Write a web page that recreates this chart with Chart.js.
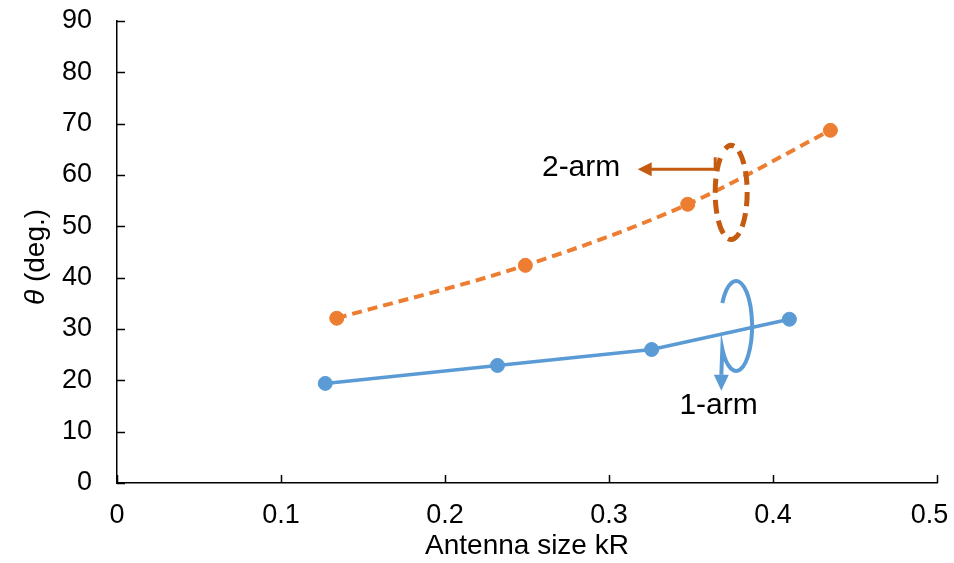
<!DOCTYPE html>
<html>
<head>
<meta charset="utf-8">
<script src="https://cdn.jsdelivr.net/npm/chart.js@4/dist/chart.umd.min.js"></script>
<style>
  html, body { margin: 0; padding: 0; background: #fff; }
  #wrap { width: 954px; height: 563px; }
</style>
</head>
<body>
<div id="wrap"><canvas id="chart"></canvas></div>
<script>
// values
const oneArmX = [0.127, 0.232, 0.326, 0.410];
const oneArmY = [19.4, 22.9, 26.0, 31.9];
const twoArmX = [0.134, 0.249, 0.348, 0.435];
const twoArmY = [32.1, 42.4, 54.3, 68.7];

const xTicks = [0, 0.1, 0.2, 0.3, 0.4, 0.5];
const yTicks = [0, 10, 20, 30, 40, 50, 60, 70, 80, 90];

const FONT = '"Liberation Sans", Arial, sans-serif';
const BLUE = '#5B9BD5';
const ORANGE = '#ED7D31';
const DARK_ORANGE = '#C55A11';

function toPoints(xs, ys) {
    return xs.map((x, i) => ({ x: x, y: ys[i] }));
}

// inward tick marks (Excel style)
const insideTicks = {
    id: 'insideTicks',
    afterDraw(chart) {
        const ctx = chart.ctx;
        const xs = chart.scales.x, ys = chart.scales.y;
        ctx.save();
        ctx.strokeStyle = '#000';
        ctx.lineWidth = 1.5;
        ctx.beginPath();
        yTicks.forEach(v => {
            const p = Math.round(ys.getPixelForValue(v)) + 0.5;
            ctx.moveTo(xs.left, p);
            ctx.lineTo(xs.left + 8, p);
        });
        xTicks.forEach(v => {
            const p = Math.round(xs.getPixelForValue(v)) + 0.5;
            ctx.moveTo(p, ys.bottom);
            ctx.lineTo(p, ys.bottom - 8);
        });
        ctx.stroke();
        ctx.restore();
    }
};

// y title with italic theta
const yTitle = {
    id: 'yTitle',
    afterDraw(chart) {
        const ctx = chart.ctx;
        const area = chart.chartArea;
        const a = 'θ', b = ' (deg.)';
        ctx.save();
        ctx.translate(36, (area.top + area.bottom) / 2 + 5);
        ctx.rotate(-Math.PI / 2);
        ctx.fillStyle = '#000';
        ctx.textBaseline = 'middle';
        ctx.font = 'italic 28px ' + FONT;
        const wa = ctx.measureText(a).width;
        ctx.font = '28px ' + FONT;
        const wb = ctx.measureText(b).width;
        let x0 = -(wa + wb) / 2;
        ctx.textAlign = 'left';
        ctx.font = 'italic 28px ' + FONT;
        ctx.fillText(a, x0, 0);
        ctx.font = '28px ' + FONT;
        ctx.fillText(b, x0 + wa, 0);
        ctx.restore();
    }
};

function arrowHead(ctx, tx, ty, dx, dy, len, half) {
    // tip at (tx,ty), pointing along (dx,dy)
    const n = Math.hypot(dx, dy);
    const ux = dx / n, uy = dy / n;
    const bx = tx - ux * len, by = ty - uy * len;
    ctx.beginPath();
    ctx.moveTo(tx, ty);
    ctx.lineTo(bx - uy * half, by + ux * half);
    ctx.lineTo(bx + uy * half, by - ux * half);
    ctx.closePath();
    ctx.fill();
}

// rotation symbols, arrows and labels, anchored in data units
const annotations = {
    id: 'annotations',
    afterDatasetsDraw(chart) {
        const ctx = chart.ctx;
        const xs = chart.scales.x, ys = chart.scales.y;
        ctx.save();

        // 2-arm: dashed ring
        const ox = xs.getPixelForValue(0.3745), oy = ys.getPixelForValue(56.6);
        ctx.strokeStyle = DARK_ORANGE;
        ctx.lineWidth = 5;
        ctx.setLineDash([14, 7]);
        ctx.lineDashOffset = 4;
        ctx.beginPath();
        ctx.ellipse(ox, oy, 16, 47, 0, -Math.PI * 0.62, Math.PI * 1.32);
        ctx.stroke();
        ctx.setLineDash([]);
        // arrow to the label
        const ay = ys.getPixelForValue(61.1);
        const tipX = xs.getPixelForValue(0.3175);
        ctx.lineWidth = 3;
        ctx.beginPath();
        ctx.moveTo(ox - 16, ay - 12);
        ctx.lineTo(ox - 16, ay);
        ctx.lineTo(tipX + 12, ay);
        ctx.stroke();
        ctx.fillStyle = DARK_ORANGE;
        arrowHead(ctx, tipX, ay, -1, 0, 14, 7);

        // 1-arm: open ring with arrow
        const bx = xs.getPixelForValue(0.3775), by = ys.getPixelForValue(30.6);
        ctx.strokeStyle = BLUE;
        ctx.fillStyle = BLUE;
        ctx.lineWidth = 4;
        const start = -Math.PI * 0.83, end = Math.PI * 0.83;
        ctx.beginPath();
        ctx.ellipse(bx, by, 16, 45, 0, start, end);
        const ex = bx + 16 * Math.cos(end), ey = by + 45 * Math.sin(end);
        ctx.lineTo(ex - 1, ey + 26);
        ctx.stroke();
        arrowHead(ctx, ex - 1, ey + 42, 0, 1, 16, 7.5);

        // labels
        ctx.fillStyle = '#000';
        ctx.font = '30px ' + FONT;
        ctx.textBaseline = 'middle';
        ctx.textAlign = 'center';
        ctx.fillText('2-arm', xs.getPixelForValue(0.2830), ys.getPixelForValue(61.5));
        ctx.fillText('1-arm', xs.getPixelForValue(0.3668), ys.getPixelForValue(15.0));
        ctx.restore();
    }
};

const data = {
    datasets: [
        {
            label: '1-arm',
            data: toPoints(oneArmX, oneArmY),
            borderColor: BLUE,
            backgroundColor: BLUE,
            borderWidth: 3.5,
            pointRadius: 7,
            pointBorderWidth: 1,
            pointBackgroundColor: BLUE,
            pointBorderColor: BLUE,
            fill: false,
            tension: 0
        },
        {
            label: '2-arm',
            data: toPoints(twoArmX, twoArmY),
            borderColor: ORANGE,
            backgroundColor: ORANGE,
            borderWidth: 4,
            borderDash: [10, 6],
            pointRadius: 7,
            pointBorderWidth: 1,
            pointBackgroundColor: ORANGE,
            pointBorderColor: ORANGE,
            fill: false,
            tension: 0.15,
            cubicInterpolationMode: 'monotone'
        }
    ]
};

const config = {
    type: 'scatter',
    data: data,
    options: {
        responsive: true,
        maintainAspectRatio: false,
        animation: false,
        showLine: true,
        layout: { padding: { top: 21, right: 17, left: 0, bottom: 0 } },
        plugins: {
            legend: { display: false },
            tooltip: { enabled: false }
        },
        scales: {
            x: {
                type: 'linear',
                min: 0,
                max: 0.5,
                afterBuildTicks: (scale) => { scale.ticks = xTicks.map(v => ({ value: v })); },
                afterFit: (scale) => {
                    scale.height = 80;
                    scale.paddingLeft = 0;
                    scale.paddingRight = 0;
                },
                grid: { display: false, drawTicks: false },
                border: { display: true, color: '#000', width: 1.5 },
                ticks: {
                    color: '#000',
                    font: { family: FONT, size: 27 },
                    padding: 16,
                    maxRotation: 0,
                    // last label is pulled inside the canvas, as in the original
                    callback: (v) => v === 0.5 ? '0.5\u00a0\u00a0' : String(v)
                },
                title: {
                    display: true,
                    text: 'Antenna size kR',
                    color: '#000',
                    font: { family: FONT, size: 28 },
                    padding: { top: 0, bottom: 0 }
                }
            },
            y: {
                type: 'linear',
                min: 0,
                max: 90,
                afterBuildTicks: (scale) => { scale.ticks = yTicks.map(v => ({ value: v })); },
                afterFit: (scale) => {
                    scale.width = 117;
                    scale.paddingTop = 0;
                    scale.paddingBottom = 0;
                },
                grid: { display: false, drawTicks: false },
                border: { display: true, color: '#000', width: 1.5 },
                ticks: {
                    color: '#000',
                    font: { family: FONT, size: 27 },
                    padding: 25
                }
            }
        }
    },
    plugins: [insideTicks, yTitle, annotations]
};

new Chart(document.getElementById('chart'), config);
</script>
</body>
</html>
